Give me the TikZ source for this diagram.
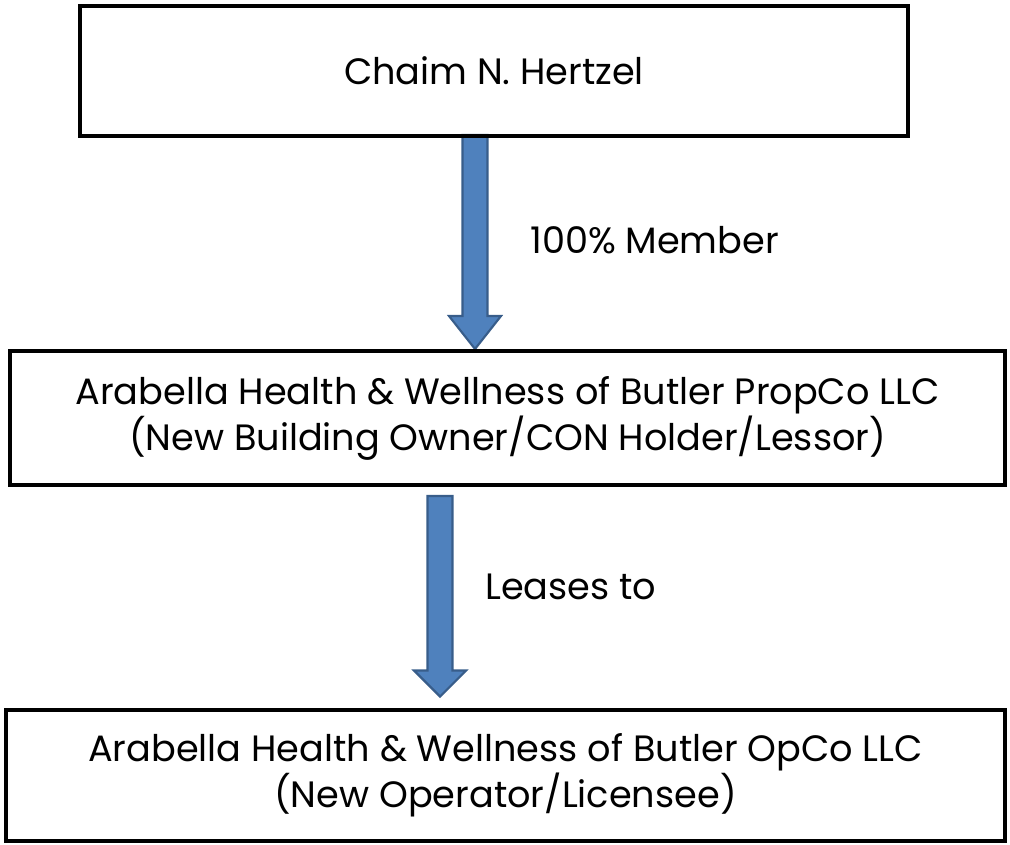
\documentclass[tikz,border=0pt]{standalone}
\usepackage{fontspec}
\setmainfont{Poppins}
\usetikzlibrary{calc,backgrounds}
\definecolor{arrowfill}{HTML}{4F81BD}
\definecolor{arrowline}{HTML}{385D8A}

% block arrow: top, tip, head length
\newcommand\bigarrow[3]{%
\filldraw[blockarrow] ($(#1)+(-12.5,0)$) -- ($(#2)+(-12.5,-#3)$) -- ($(#2)+(-26,-#3)$) -- (#2)
  -- ($(#2)+(26,-#3)$) -- ($(#2)+(12.5,-#3)$) -- ($(#1)+(12.5,0)$) -- cycle;}

\begin{document}
\begin{tikzpicture}[x=0.75pt,y=-0.75pt,
box/.style={draw, line width=3pt, align=center, inner sep=0pt,
  font=\fontsize{27.5}{34.5}\selectfont},
blockarrow/.style={fill=arrowfill, draw=arrowline, line width=1.6pt, line join=miter},
lbl/.style={anchor=west, inner sep=0pt, font=\fontsize{27.5}{34}\selectfont}]
\useasboundingbox (0,0) rectangle (1010,845);

\node[box, minimum width=828*0.75pt, minimum height=130*0.75pt] (owner) at (494,71) {Chaim N. Hertzel};
\node[box, minimum width=995*0.75pt, minimum height=134*0.75pt] (propco) at (507.5,418)
  {Arabella Health \& Wellness of Butler PropCo LLC\\(New Building Owner/CON Holder/Lessor)};
\node[box, minimum width=999*0.75pt, minimum height=131*0.75pt] (opco) at (505.5,775)
  {Arabella Health \& Wellness of Butler OpCo LLC\\(New Operator/Licensee)};

\coordinate (a1top) at ($(owner.south)+(-19,-3)$);
\coordinate (a1tip) at ($(propco.north)+(-32.5,0)$);
\coordinate (a2top) at ($(propco.south)+(-67.5,9)$);
\coordinate (a2tip) at ($(opco.north)+(-65.5,-11)$);

\begin{pgfonlayer}{background}
\bigarrow{a1top}{a1tip}{33}
\bigarrow{a2top}{a2tip}{26}
\end{pgfonlayer}

\node[lbl] (member) at (530,240) {100\% Member};
\node[lbl] (lease) at (485,587) {Leases to};

\end{tikzpicture}
\end{document}
